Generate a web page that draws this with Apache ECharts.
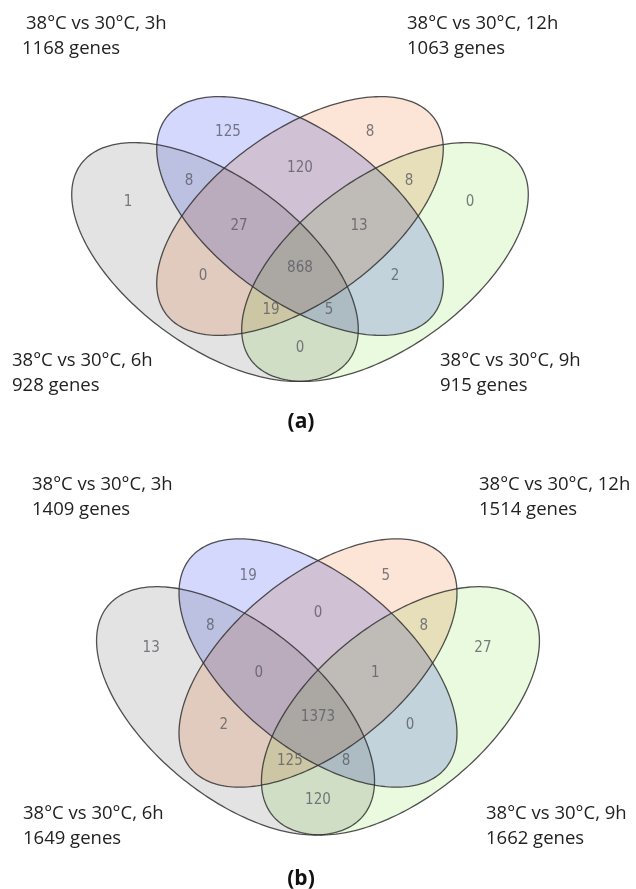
<!DOCTYPE html>
<html><head><meta charset="utf-8">
<script src="https://cdn.jsdelivr.net/npm/echarts@6/dist/echarts.min.js"></script>
<style>html,body{margin:0;padding:0;background:#fff}#c{width:636px;height:889px}</style>
</head><body><div id="c"></div>
<script>
// ---------------- data ----------------
const setNames = ['38°C vs 30°C, 3h', '38°C vs 30°C, 12h', '38°C vs 30°C, 6h', '38°C vs 30°C, 9h'];
// membership of each Venn region (indices into setNames)
const regionSets = [[0],[1],[2],[3],[0,2],[0,1],[1,3],[0,1,2],[0,1,3],[1,2],[0,1,2,3],[0,3],[1,2,3],[0,2,3],[2,3]];
const countsA = [125, 8, 1, 0, 8, 120, 8, 27, 13, 0, 868, 2, 19, 5, 0];
const countsB = [19, 5, 13, 27, 8, 0, 8, 0, 1, 2, 1373, 0, 125, 8, 120];
const panelTags = ['(a)', '(b)'];

// ---------------- layout (template coordinates, y down) ----------------
const ELL = [
  {cx: 0,   cy: 0,  rot: 36},   // 3h  (blue)
  {cx: 0,   cy: 0,  rot: -36},  // 12h (orange)
  {cx: -85, cy: 46, rot: 36},   // 6h  (gray)
  {cx: 85,  cy: 46, rot: -36}   // 9h  (green)
];
const SEMI_A = 166, SEMI_B = 85;
const FILL = ['#d4d8fd', '#fce4d6', '#e3e3e3', '#eafade'];
const DRAW_ORDER = [2, 3, 0, 1];
const LABEL_POS = [[-72,-84],[70,-84],[-172,-14],[170,-14],[-111,-35],[0,-48],[109,-35],[-61,10],[59,10],[-97,60],[0,52],[95,60],[-29,94],[29,94],[0,132]];
// panel placement: pixel centre of the inner ellipses and axis scale
const PANELS = [
  {top: 0,   height: 440, cx: 300, cy: 216, sx: 1.0,  sy: 1.0},
  {top: 440, height: 449, cx: 318, cy: 663, sx: 0.97, sy: 1.04}
];
// set caption placement (pixels: left x, first-line centre y)
const CAPTIONS = [
  [[26,24,22],[407,24,407],[12,361,12],[440,361,440]],
  [[32,485,32],[479,485,479],[23,814,23],[486,814,486]]
];
const TAG_POS = [[301,422],[301,879]];

const W = 636;
const countsList = [countsA, countsB];

function setTotal(counts, s) {
  let t = 0;
  regionSets.forEach((m, r) => { if (m.indexOf(s) >= 0) t += counts[r]; });
  return t;
}

const grids = [], xAxes = [], yAxes = [], series = [], graphics = [];
PANELS.forEach((p, g) => {
  grids.push({left: 0, top: p.top, width: W, height: p.height, outerBoundsMode: 'none'});
  xAxes.push({type: 'value', gridIndex: g, show: false, min: (0 - p.cx) / p.sx, max: (W - p.cx) / p.sx});
  yAxes.push({type: 'value', gridIndex: g, show: false, inverse: true,
    min: (p.top - p.cy) / p.sy, max: (p.top + p.height - p.cy) / p.sy});
  [false, true].forEach(strokeOnly => {
    series.push({
      type: 'custom', coordinateSystem: 'cartesian2d', xAxisIndex: g, yAxisIndex: g,
      silent: true, clip: false, z: strokeOnly ? 3 : 2,
      blendMode: strokeOnly ? 'source-over' : 'multiply',
      data: DRAW_ORDER.map(i => [ELL[i].cx, ELL[i].cy, i]),
      encode: {x: 0, y: 1},
      renderItem(params, api) {
        const i = api.value(2), e = ELL[i], th = e.rot * Math.PI / 180;
        const pts = [];
        for (let k = 0; k < 240; k++) {
          const t = k / 240 * 2 * Math.PI;
          const x = e.cx + SEMI_A * Math.cos(t) * Math.cos(th) - SEMI_B * Math.sin(t) * Math.sin(th);
          const y = e.cy + SEMI_A * Math.cos(t) * Math.sin(th) + SEMI_B * Math.sin(t) * Math.cos(th);
          pts.push(api.coord([x, y]));
        }
        return {
          type: 'polygon', shape: {points: pts},
          style: strokeOnly
            ? {fill: 'none', stroke: 'rgba(50,50,50,0.85)', lineWidth: 1.3}
            : {fill: FILL[i]}
        };
      }
    });
  });
  series.push({
    type: 'scatter', xAxisIndex: g, yAxisIndex: g, silent: true, z: 4,
    symbolSize: 1, itemStyle: {color: 'rgba(0,0,0,0)'},
    data: countsList[g].map((v, r) => [LABEL_POS[r][0], LABEL_POS[r][1], v]),
    label: {show: true, position: 'inside', formatter: q => String(q.value[2]),
      color: '#5a5a64', fontSize: 15, fontFamily: '"Liberation Sans Narrow", "DejaVu Sans Condensed", Roboto, sans-serif'}
  });
  CAPTIONS[g].forEach((c, s) => {
    const font = '18.5px "Open Sans", sans-serif';
    graphics.push({type: 'text', x: c[0], y: c[1], silent: true,
      style: {text: setNames[s], font, fill: '#222', textAlign: 'left', textVerticalAlign: 'middle', align: 'left', verticalAlign: 'middle'}});
    graphics.push({type: 'text', x: c[2], y: c[1] + 25, silent: true,
      style: {text: setTotal(countsList[g], s) + ' genes', font, fill: '#222', textAlign: 'left', textVerticalAlign: 'middle', align: 'left', verticalAlign: 'middle'}});
  });
  graphics.push({type: 'text', x: TAG_POS[g][0], y: TAG_POS[g][1], silent: true,
    style: {text: panelTags[g], font: 'bold 21px "Open Sans", sans-serif', fill: '#111',
      textAlign: 'center', textVerticalAlign: 'middle', align: 'center', verticalAlign: 'middle'}});
});

const chart = echarts.init(document.getElementById('c'), null, {renderer: 'canvas'});
chart.setOption({
  animation: false,
  backgroundColor: '#fff',
  grid: grids, xAxis: xAxes, yAxis: yAxes,
  series: series,
  graphic: graphics
});
</script></body></html>
